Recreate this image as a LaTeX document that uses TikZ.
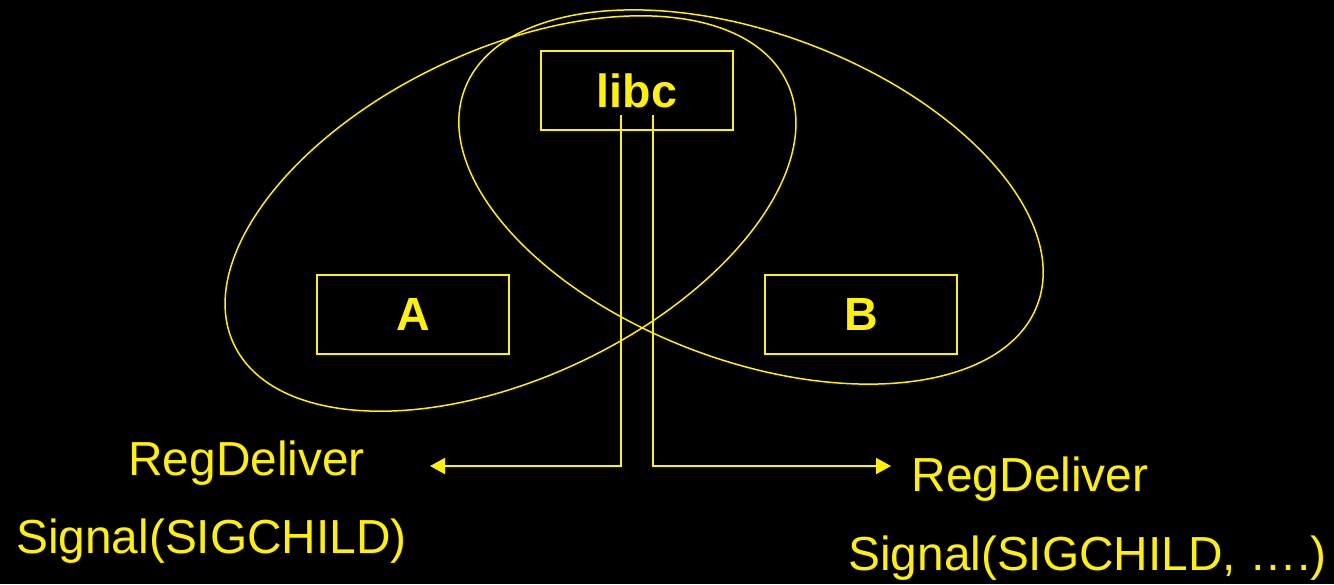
\documentclass[tikz,border=0pt]{standalone}
\usepackage{fontspec}
\setmainfont{Liberation Sans}
\usepackage{tikz}
\usetikzlibrary{arrows.meta}

\begin{document}
\begin{tikzpicture}[
    modbox/.style={draw=yellow, line width=1.1pt, minimum width=3.84cm, minimum height=1.58cm, inner sep=0pt, text=yellow, font=\fontsize{26.5}{32}\selectfont\bfseries},
    callout/.style={anchor=base west, inner sep=0pt, text=yellow, font=\fontsize{27.2}{32}\selectfont},
    ring/.style={draw=yellow, line width=0.85pt},
    link/.style={draw=yellow, line width=1pt, -{Triangle[length=0.3cm, width=0.32cm]}}
]
    \fill[black] (0,0) rectangle (26.68,11.68);
    \useasboundingbox (0,0) rectangle (26.68,11.68);

    % the two groups
    \draw[ring, rotate around={25.3:(10.21,7.41)}] (10.21,7.41) ellipse (6.12cm and 3.28cm);
    \draw[ring, rotate around={-20.6:(15.02,7.74)}] (15.02,7.74) ellipse (6.12cm and 3.27cm);

    \node[modbox] (libc) at (12.74,9.87) {libc};
    \node[modbox] (a) at (8.26,5.39) {A};
    \node[modbox] (b) at (17.22,5.39) {B};

    \coordinate (fromA) at (12.42,9.38);
    \coordinate (toA) at (8.6,2.36);
    \coordinate (fromB) at (13.06,9.38);
    \coordinate (toB) at (17.82,2.36);
    \draw[link] (fromA) |- (toA);
    \draw[link] (fromB) |- (toB);

    \node[callout] (regA) at (2.56,2.18) {RegDeliver};
    \node[callout] (sigA) at (0.32,0.61) {Signal(SIGCHILD)};
    \node[callout] (regB) at (18.23,1.85) {RegDeliver};
    \node[callout] (sigB) at (16.96,0.27) {Signal(SIGCHILD, ….)};
\end{tikzpicture}
\end{document}
